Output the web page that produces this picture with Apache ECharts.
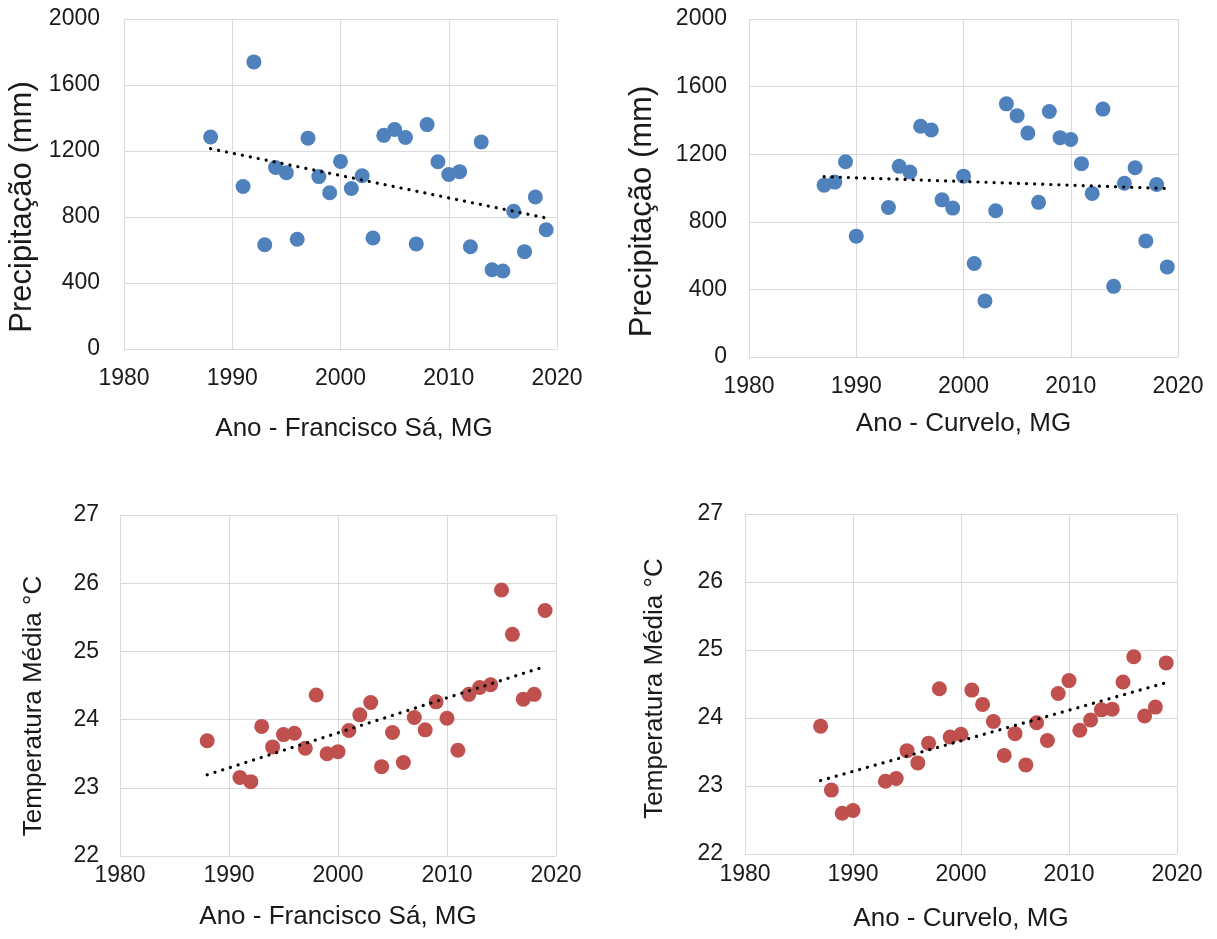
<!DOCTYPE html>
<html>
<head>
<meta charset="utf-8">
<script src="https://cdn.jsdelivr.net/npm/echarts@6/dist/echarts.min.js"></script>
<style>
html,body{margin:0;padding:0;background:#fff;}
#chart{width:1217px;height:939px;}
</style>
</head>
<body>
<div id="chart"></div>
<script>
// ---- data ----
const yearsFS = [1988,1991,1992,1993,1994,1995,1996,1997,1998,1999,2000,2001,2002,2003,2004,2005,2006,2007,2008,2009,2010,2011,2012,2013,2014,2015,2016,2017,2018,2019];
const yearsCV = [1987,1988,1989,1990,1993,1994,1995,1996,1997,1998,1999,2000,2001,2002,2003,2004,2005,2006,2007,2008,2009,2010,2011,2012,2013,2014,2015,2016,2017,2018,2019];
const precipFS = [1285,985,1740,632,1100,1068,665,1278,1045,947,1137,973,1050,673,1295,1330,1282,637,1360,1135,1058,1075,620,1255,480,473,835,590,921,723];
const precipCV = [1017,1035,1155,715,885,1128,1095,1365,1343,930,881,1070,553,332,865,1498,1428,1325,915,1453,1298,1287,1144,968,1467,418,1028,1120,687,1021,533];
const tempFS = [23.69,23.15,23.09,23.90,23.60,23.78,23.80,23.58,24.36,23.50,23.53,23.84,24.07,24.25,23.31,23.81,23.37,24.03,23.85,24.26,24.02,23.55,24.37,24.47,24.51,25.90,25.25,24.30,24.37,25.60];
const tempCV = [23.88,22.94,22.60,22.64,23.07,23.11,23.52,23.34,23.63,24.43,23.72,23.76,24.41,24.20,23.95,23.45,23.77,23.31,23.93,23.67,24.36,24.55,23.82,23.97,24.12,24.13,24.53,24.90,24.03,24.16,24.81];
// trend line end points
const trendPrecipFS = [[1988,1214],[2019,794]];
const trendPrecipCV = [[1987,1067],[2019,997]];
const trendTempFS = [[1988,23.19],[2019,24.78]];
const trendTempCV = [[1987,23.08],[2019,24.52]];
const xTitles = ['Ano - Francisco Sá, MG','Ano - Curvelo, MG','Ano - Francisco Sá, MG','Ano - Curvelo, MG'];
const yTitles = ['Precipitação (mm)','Precipitação (mm)','Temperatura Média °C','Temperatura Média °C'];

// ---- layout ----
const FONT = '"Liberation Sans", Arial, sans-serif';
const TXT = '#1a1a1a';
const GRIDC = '#d9d9d9';
const grids = [
  {left:124, top:19, width:433, height:330},
  {left:749, top:19, width:429, height:338},
  {left:120, top:515, width:436, height:341},
  {left:745, top:514, width:432, height:340}
];
const xCfg = [
  {labelMargin:18, nameGap:67, pad:[0,0,0,27]},
  {labelMargin:18, nameGap:54, pad:[0,0,0,0]},
  {labelMargin:8, nameGap:48, pad:[0,0,0,0]},
  {labelMargin:9, nameGap:52, pad:[0,0,0,0]}
];
const yCfg = [
  {min:0,max:2000,interval:400,labelMargin:24,nameGap:86,pad:[0,46,0,0],fs:31},
  {min:0,max:2000,interval:400,labelMargin:22,nameGap:91,pad:[0,47,0,0],fs:31},
  {min:22,max:27,interval:1,labelMargin:21,nameGap:73,pad:[0,41,0,0],fs:26},
  {min:22,max:27,interval:1,labelMargin:22,nameGap:77,pad:[0,9,0,0],fs:26}
];
const plain = v => String(v);

const xAxis = grids.map((g,i)=>({
  type:'value', gridIndex:i, min:1980, max:2020, interval:10,
  axisLine:{show:false}, axisTick:{show:false},
  splitLine:{show:true, lineStyle:{color:GRIDC, width:1}},
  axisLabel:{color:TXT, fontSize:23, fontFamily:FONT, margin:xCfg[i].labelMargin, showMinLabel:true, showMaxLabel:true, formatter:plain},
  name:xTitles[i], nameLocation:'middle', nameGap:xCfg[i].nameGap,
  nameTextStyle:{color:TXT, fontSize:26, fontFamily:FONT, padding:xCfg[i].pad}
}));
const yAxis = grids.map((g,i)=>({
  type:'value', gridIndex:i, min:yCfg[i].min, max:yCfg[i].max, interval:yCfg[i].interval,
  axisLine:{show:false}, axisTick:{show:false},
  splitLine:{show:true, lineStyle:{color:GRIDC, width:1}},
  axisLabel:{color:TXT, fontSize:23, fontFamily:FONT, margin:yCfg[i].labelMargin, formatter:plain},
  name:yTitles[i], nameLocation:'middle', nameGap:yCfg[i].nameGap,
  nameTextStyle:{color:TXT, fontSize:yCfg[i].fs, fontFamily:FONT, padding:yCfg[i].pad}
}));

function pts(xs, ys){ return xs.map((x,k)=>[x, ys[k]]); }
const BLUE = '#4f81bd', RED = '#c0504d';
const scatterSets = [
  [pts(yearsFS, precipFS), BLUE],
  [pts(yearsCV, precipCV), BLUE],
  [pts(yearsFS, tempFS), RED],
  [pts(yearsCV, tempCV), RED]
];
const trends = [trendPrecipFS, trendPrecipCV, trendTempFS, trendTempCV];
const series = [];
scatterSets.forEach((s,i)=>{
  series.push({type:'scatter', xAxisIndex:i, yAxisIndex:i, data:s[0], symbol:'circle', symbolSize:15,
    itemStyle:{color:s[1], opacity:1}, z:2, silent:true});
});
trends.forEach((t,i)=>{
  series.push({type:'line', xAxisIndex:i, yAxisIndex:i, data:t, showSymbol:false, symbol:'none', z:3, silent:true,
    lineStyle:{color:'#000', width:3.2, type:[0.1,8], cap:'round'}});
});

const chart = echarts.init(document.getElementById('chart'), null, {renderer:'canvas'});
chart.setOption({
  backgroundColor:'#fff',
  animation:false,
  grid:grids.map(g=>Object.assign({containLabel:false}, g)),
  xAxis, yAxis, series
});
</script>
</body>
</html>
